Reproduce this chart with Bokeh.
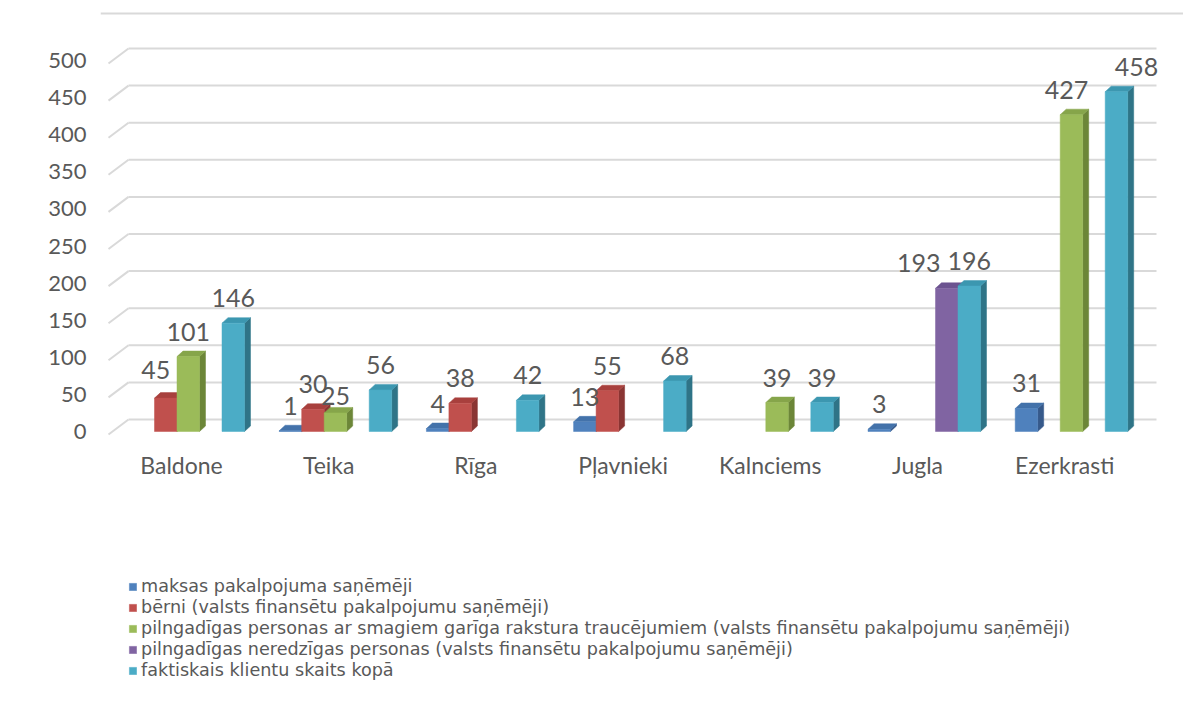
from bokeh.plotting import figure
from bokeh.models import Range1d, FixedTicker, Span, Legend, LegendItem, ColumnDataSource
from bokeh.core.properties import value
from bokeh.embed import file_html
from bokeh.resources import INLINE

# ---------------- data ----------------
categories = ["Baldone", "Teika", "Rīga", "Pļavnieki", "Kalnciems", "Jugla", "Ezerkrasti"]
series_names = [
    "maksas pakalpojuma saņēmēji",
    "bērni (valsts finansētu pakalpojumu saņēmēji)",
    "pilngadīgas personas ar smagiem garīga rakstura traucējumiem (valsts finansētu pakalpojumu saņēmēji)",
    "pilngadīgas neredzīgas personas (valsts finansētu pakalpojumu saņēmēji)",
    "faktiskais klientu skaits kopā",
]
maksas = [None, 1, 4, 13, None, 3, 31]
berni = [45, 30, 38, 55, None, None, None]
garigi = [101, 25, None, None, 39, None, 427]
neredzigi = [None, None, None, None, None, 193, None]
kopa = [146, 56, 42, 68, 39, 196, 458]
series = [maksas, berni, garigi, neredzigi, kopa]
y_ticks = [0, 50, 100, 150, 200, 250, 300, 350, 400, 450, 500]

# ---------------- style ----------------
front_colors = ["#4F81BD", "#C0504D", "#9BBB59", "#8064A2", "#4BACC6"]
top_colors = ["#4372AA", "#A8403D", "#86A54A", "#6C5390", "#3C97B0"]
side_colors = ["#36598A", "#8A3533", "#6C8638", "#594574", "#2F7487"]
TXT = "#595959"
GRID = "#D9D9D9"
FONT = "Lato"
LEG_FONT = "DejaVu Sans"
# manual data-label nudges in screen px, keyed by (series index, category index)
LABEL_NUDGE = {(1, 0): (-10, -3), (2, 1): (0, 8), (3, 5): (-28, 0),
               (2, 6): (-5, 0), (4, 6): (20, 0)}

# ---------------- geometry (pixels) ----------------
W, H = 1183, 699
FRAME_L = 100         # canvas x of frame left
CAT0_X = 181          # canvas x of first category centre
ZERO_Y = 431          # canvas y of value 0 (front plane)
PX_X = 147.2          # px per category
PX_Y = 0.742          # px per unit value
SLOT_PX = 22.5
LABEL_PX = 25
LEG_X = 28            # legend left, relative to frame
LEG_TOP_Y = 586       # canvas y of first legend row centre
LEG_PITCH = 21
LEG_HALF = 10.3

SW = SLOT_PX / PX_X   # bar slot width
GOFF = 6.75 / PX_X    # group offset
DX = 6 / PX_X         # 3d depth
DY = 5.5 / PX_Y
BACK_DY = 12 / PX_Y   # back wall offset

x_range = Range1d((FRAME_L - CAT0_X) / PX_X, (W - CAT0_X) / PX_X)
y_range = Range1d(-(H - ZERO_Y) / PX_Y, ZERO_Y / PX_Y)

p = figure(width=W, height=H, x_range=x_range, y_range=y_range,
           output_backend="svg", toolbar_location=None,
           x_axis_location=None, y_axis_location="left",
           min_border_left=FRAME_L, min_border_right=0,
           min_border_top=0, min_border_bottom=0)
p.outline_line_color = None
p.xgrid.visible = False
p.ygrid.visible = False

ax = p.yaxis[0]
ax.ticker = FixedTicker(ticks=y_ticks)
ax.axis_line_color = None
ax.major_tick_line_color = None
ax.minor_tick_line_color = None
ax.major_label_text_font = FONT
ax.major_label_text_font_size = "22px"
ax.major_label_text_color = TXT
ax.major_label_standoff = 8

# chart border (top)
p.add_layout(Span(location=(ZERO_Y - 13) / PX_Y, dimension="width",
                  line_color=GRID, line_width=2))

# back-wall gridlines with left slant
gx0 = (128 - CAT0_X) / PX_X
gx1 = (1156 - CAT0_X) / PX_X
sx0 = (108 - CAT0_X) / PX_X
p.segment(x0=[gx0] * len(y_ticks), y0=[v + BACK_DY for v in y_ticks],
          x1=[gx1] * len(y_ticks), y1=[v + BACK_DY for v in y_ticks],
          line_color=GRID, line_width=2)
p.segment(x0=[sx0] * len(y_ticks), y0=[v - 3 / PX_Y for v in y_ticks],
          x1=[gx0] * len(y_ticks), y1=[v + BACK_DY for v in y_ticks],
          line_color=GRID, line_width=2)

items = []
lab_x, lab_y, lab_t, lab_dx, lab_dy = [], [], [], [], []
for j, vals in enumerate(series):
    idx = [i for i, v in enumerate(vals) if v is not None]
    xc = [i + GOFF + (j - 2) * SW for i in idx]
    vv = [vals[i] for i in idx]
    left = [x - SW / 2 for x in xc]
    right = [x + SW / 2 for x in xc]
    side_xs = [[r, r + DX, r + DX, r] for r in right]
    side_ys = [[0, DY, t + DY, t] for t in vv]
    top_xs = [[l, r, r + DX, l + DX] for l, r in zip(left, right)]
    top_ys = [[t, t, t + DY, t + DY] for t in vv]
    p.patches(side_xs, side_ys, fill_color=side_colors[j], line_color=side_colors[j], line_width=0.5)
    p.patches(top_xs, top_ys, fill_color=top_colors[j], line_color=top_colors[j], line_width=0.5)
    r = p.quad(left=left, right=right, bottom=0, top=vv,
               fill_color=front_colors[j], line_color=front_colors[j], line_width=0.5)
    items.append(LegendItem(label=series_names[j], renderers=[r]))
    for i, x, v in zip(idx, xc, vv):
        ndx, ndy = LABEL_NUDGE.get((j, i), (0, 0))
        lab_x.append(x)
        lab_y.append(v)
        lab_t.append(str(v))
        lab_dx.append(ndx)
        lab_dy.append(-25 + ndy)

lab_src = ColumnDataSource(dict(x=lab_x, y=lab_y, t=lab_t, dx=lab_dx, dy=lab_dy))
p.text(x="x", y="y", text="t", x_offset="dx", y_offset="dy", source=lab_src,
       text_font=value(FONT), text_font_size=f"{LABEL_PX}px", text_color=TXT,
       text_align="center", text_baseline="middle")

# category labels
p.text(x=list(range(len(categories))), y=[0] * len(categories), text=categories,
       y_offset=33, text_font=value(FONT), text_font_size="23px", text_color=TXT,
       text_align="center", text_baseline="middle")

# legend: one entry per Legend so the row pitch can be set exactly
for k, item in enumerate(items):
    centre = LEG_TOP_Y + k * LEG_PITCH
    leg = Legend(items=[item], location=(LEG_X, H - centre - LEG_HALF),
                 orientation="vertical",
                 glyph_width=9, glyph_height=9, label_standoff=4,
                 label_text_font=LEG_FONT, label_text_font_size="17.6px",
                 label_text_color=TXT, spacing=0, padding=0, margin=0,
                 label_height=16, border_line_color=None,
                 background_fill_alpha=0)
    p.add_layout(leg)

open("out.html", "w").write(file_html(p, INLINE))
